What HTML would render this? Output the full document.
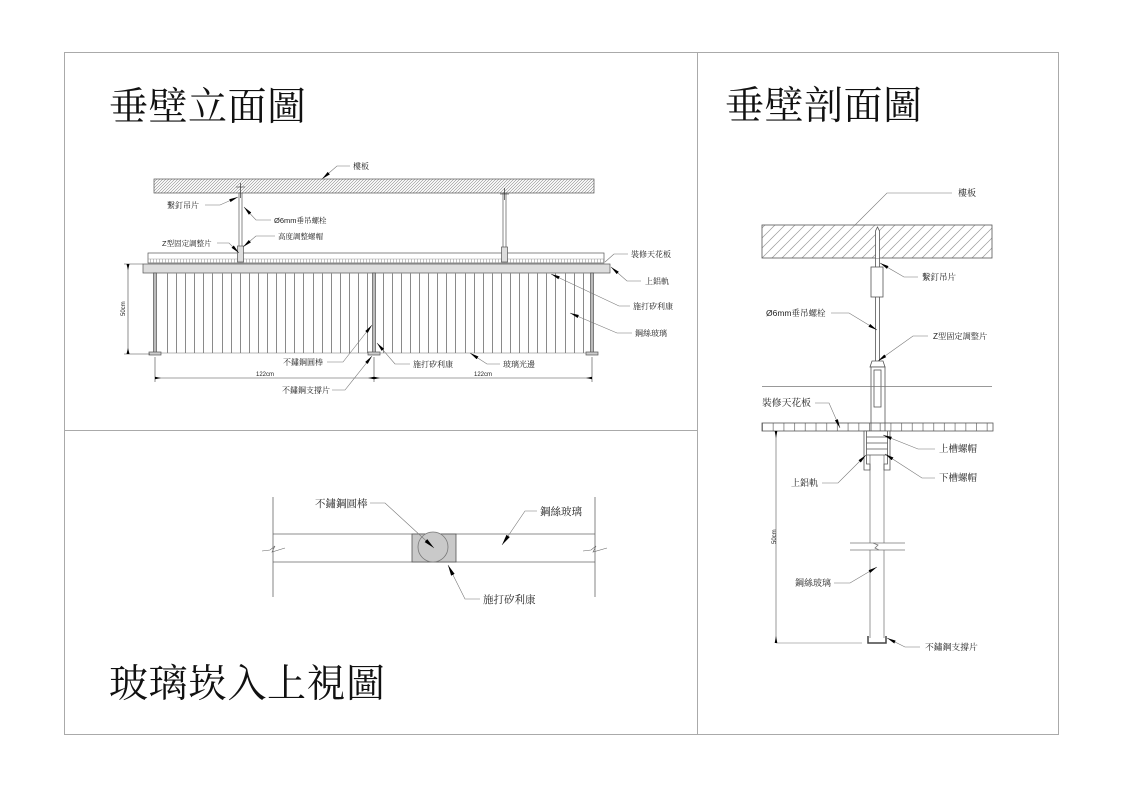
<!DOCTYPE html>
<html><head><meta charset="utf-8"><style>
html,body{margin:0;padding:0;background:#fff;}
svg{display:block;}
text{font-family:"Liberation Sans","Noto Serif CJK SC",serif;fill:#222;}
.t{font-family:"Liberation Serif","Noto Serif CJK SC",serif;font-size:39px;fill:#111;}
</style></head><body>
<svg width="1123" height="789" viewBox="0 0 1123 789" xmlns="http://www.w3.org/2000/svg">
<defs>
<pattern id="h1" width="3" height="3" patternUnits="userSpaceOnUse"><path d="M-1,1 L1,-1 M0,3 L3,0 M2,4 L4,2" stroke="#888" stroke-width="0.6"/></pattern>
<pattern id="h2" width="10" height="10" patternUnits="userSpaceOnUse"><path d="M-2.5,2.5 L2.5,-2.5 M0,10 L10,0 M7.5,12.5 L12.5,7.5" stroke="#999" stroke-width="0.7"/></pattern>
<pattern id="tk" x="0" y="0" width="3" height="10" patternUnits="userSpaceOnUse"><line x1="0.5" y1="0" x2="0.5" y2="10" stroke="#999" stroke-width="0.6"/></pattern>
<pattern id="tk2" x="762" y="0" width="10.7" height="10" patternUnits="userSpaceOnUse"><line x1="0.5" y1="0" x2="0.5" y2="10" stroke="#666" stroke-width="0.7"/></pattern>
<marker id="a" markerWidth="9" markerHeight="4" refX="9" refY="2" orient="auto" markerUnits="userSpaceOnUse"><path d="M0,0.4 L9,2 L0,3.6z" fill="#000"/></marker>
<marker id="b" markerWidth="11" markerHeight="5" refX="11" refY="2.5" orient="auto" markerUnits="userSpaceOnUse"><path d="M0,0.5 L11,2.5 L0,4.5z" fill="#000"/></marker>
</defs>

<!-- frame -->
<rect x="64.5" y="52.5" width="994" height="682" fill="none" stroke="#aaa" stroke-width="1"/>
<line x1="697.5" y1="52" x2="697.5" y2="734" stroke="#aaa" stroke-width="1"/>
<line x1="64" y1="430.5" x2="697" y2="430.5" stroke="#aaa" stroke-width="1"/>

<!-- titles -->
<text class="t" x="109" y="120" textLength="197">垂壁立面圖</text>
<text class="t" x="725" y="119" textLength="197">垂壁剖面圖</text>
<text class="t" x="109" y="697" textLength="276">玻璃崁入上視圖</text>

<!-- ============ ELEVATION ============ -->
<g stroke="#555" stroke-width="0.7" fill="none">
<rect x="154" y="179" width="440" height="14" fill="url(#h1)"/>
<!-- ceiling board -->
<rect x="148" y="253" width="456" height="10" fill="#fff"/>
<rect x="148" y="259" width="456" height="4" fill="url(#tk)" stroke="none"/>
<line x1="148" y1="259" x2="604" y2="259" stroke="#999" stroke-width="0.5"/>
<!-- rods -->
<line x1="239" y1="193" x2="239" y2="262"/><line x1="242" y1="193" x2="242" y2="262"/>
<line x1="236" y1="187" x2="245" y2="187"/><line x1="240.5" y1="183" x2="240.5" y2="198" stroke="#333"/>
<rect x="237.5" y="246" width="6" height="16" fill="#ddd"/>
<line x1="503" y1="193" x2="503" y2="262"/><line x1="506" y1="193" x2="506" y2="262"/>
<line x1="500" y1="194" x2="509" y2="194"/><line x1="504.5" y1="188" x2="504.5" y2="200" stroke="#333"/>
<rect x="501.5" y="247" width="6" height="15" fill="#ddd"/>
<!-- rail -->
<rect x="143" y="264" width="467" height="9" fill="#ddd"/>
<!-- glass -->
<path stroke="#8a8a8a" stroke-width="1" d="M167.5,273V353M176.5,273V353M185.5,273V353M194.5,273V353M203.5,273V353M212.5,273V353M222.5,273V353M231.5,273V353M240.5,273V353M249.5,273V353M258.5,273V353M267.5,273V353M276.5,273V353M285.5,273V353M294.5,273V353M303.5,273V353M313.5,273V353M322.5,273V353M331.5,273V353M340.5,273V353M349.5,273V353M358.5,273V353M367.5,273V353M383.5,273V353M392.5,273V353M401.5,273V353M410.5,273V353M419.5,273V353M428.5,273V353M437.5,273V353M446.5,273V353M455.5,273V353M465.5,273V353M474.5,273V353M483.5,273V353M492.5,273V353M501.5,273V353M510.5,273V353M519.5,273V353M528.5,273V353M537.5,273V353M546.5,273V353M555.5,273V353M565.5,273V353M574.5,273V353M583.5,273V353"/>
<line x1="155" y1="353" x2="592" y2="353" stroke="#777" stroke-width="0.6"/>
<!-- posts -->
<rect x="153.5" y="273" width="3" height="80" fill="#bbb"/>
<rect x="372.5" y="273" width="3" height="80" fill="#bbb"/>
<rect x="590.5" y="273" width="3" height="80" fill="#bbb"/>
<rect x="149" y="352" width="12" height="3" fill="#ccc"/>
<rect x="368" y="352" width="12" height="3" fill="#ccc"/>
<rect x="586" y="352" width="12" height="3" fill="#ccc"/>
</g>
<!-- dimensions elevation -->
<g stroke="#444" stroke-width="0.6" fill="none">
<line x1="128" y1="264" x2="128" y2="354"/>
<line x1="124" y1="264" x2="143" y2="264"/>
<line x1="124" y1="354" x2="150" y2="354"/>
<line x1="155" y1="357" x2="155" y2="382"/>
<line x1="374" y1="357" x2="374" y2="382"/>
<line x1="592" y1="357" x2="592" y2="382"/>
<line x1="155" y1="378" x2="592" y2="378"/>
</g>
<g fill="#000">
<path d="M126.5,264 L129.5,264 L128,270z"/><path d="M126.5,354 L129.5,354 L128,348z"/>
<path d="M155,376.8 L155,379.2 L161,378z"/><path d="M374,376.8 L374,379.2 L368,378z"/>
<path d="M374,376.8 L374,379.2 L380,378z"/><path d="M592,376.8 L592,379.2 L586,378z"/>
</g>
<text x="0" y="0" font-size="6" transform="translate(125,316) rotate(-90)">50cm</text>
<text x="256" y="376" font-size="6">122cm</text>
<text x="474" y="376" font-size="6">122cm</text>

<!-- elevation leaders -->
<g stroke="#777" stroke-width="0.6" fill="none" marker-end="url(#a)">
<polyline points="350,166 337,166 322,179"/>
<polyline points="205,205 220,205 238,197"/>
<polyline points="271,220 256,220 244,207"/>
<polyline points="275,236 256,236 243,247"/>
<polyline points="217,243 229,243 239,253"/>
<polyline points="327,362 343,362 372,325"/>
<polyline points="332,390 345,390 372,356"/>
<polyline points="410,364 395,364 377,343"/>
<polyline points="500,364 487,364 470,353"/>
<polyline points="641,281 627,281 611,267"/>
<polyline points="630,306 619,306 551,274"/>
<polyline points="632,333 617,333 570,313"/>
</g>
<polyline points="628,254 614,254 605,262" stroke="#777" stroke-width="0.6" fill="none"/>
<g font-size="8">
<text x="353" y="169">樓板</text>
<text x="167" y="208">繫釘吊片</text>
<text x="274" y="223" font-size="7.5">Ø6mm垂吊螺栓</text>
<text x="278" y="239" font-size="7.5">高度調整螺帽</text>
<text x="162" y="246" font-size="7.5">Z型固定調整片</text>
<text x="283" y="365">不鏽鋼圓棒</text>
<text x="282" y="393">不鏽鋼支撐片</text>
<text x="413" y="367">施打矽利康</text>
<text x="503" y="367">玻璃光邊</text>
<text x="631" y="257">裝修天花板</text>
<text x="645" y="284">上鋁軌</text>
<text x="633" y="309">施打矽利康</text>
<text x="635" y="336">鋼絲玻璃</text>
</g>

<!-- ============ SECTION ============ -->
<g stroke="#555" stroke-width="0.8" fill="none">
<rect x="762" y="225" width="230" height="33" fill="url(#h2)"/>
<path d="M875.5,258 L875.5,231 L877.5,227 L879.5,231 L879.5,258" fill="#fff"/>
<line x1="875.5" y1="258" x2="875.5" y2="362"/>
<line x1="879.5" y1="258" x2="879.5" y2="362"/>
<rect x="871" y="267" width="12" height="30" fill="#fff"/>
<path d="M870,367 L872,361 L883,361 L885,367z" fill="#fff"/>
<rect x="871" y="367" width="14" height="64" fill="#fff"/>
<rect x="874" y="370" width="7" height="37"/>
<line x1="762" y1="386.5" x2="992" y2="386.5" stroke="#777" stroke-width="0.7"/>
<!-- ceiling tick row -->
<rect x="762" y="423" width="231" height="8" fill="url(#tk2)" stroke="#555"/>
<!-- rail channel -->
<path d="M864,431 L864,470 L870,470 L870,464 L866.5,464 L866.5,455 L887.5,455 L887.5,464 L884,464 L884,470 L890,470 L890,431z" fill="#fff"/>
<line x1="866.5" y1="431" x2="866.5" y2="455"/><line x1="887.5" y1="431" x2="887.5" y2="455"/>
<line x1="866.5" y1="437" x2="887.5" y2="437"/>
<line x1="866.5" y1="443" x2="887.5" y2="443"/>
<line x1="866.5" y1="449" x2="887.5" y2="449"/>
<!-- glass -->
<line x1="870" y1="455" x2="870" y2="543" stroke-width="0.6"/><line x1="884" y1="455" x2="884" y2="543" stroke-width="0.6"/>
<line x1="870" y1="550" x2="870" y2="638" stroke-width="0.6"/><line x1="884" y1="550" x2="884" y2="638" stroke-width="0.6"/>
<line x1="850" y1="543" x2="905" y2="543" stroke="#777"/>
<line x1="850" y1="550" x2="905" y2="550" stroke="#777"/>
<path d="M873,543 L878,545 L875,548 L879,550" stroke="#777"/>
<!-- support plate -->
<path d="M868,636 L868,643 L886,643 L886,636" stroke="#444" stroke-width="1.5"/>
<!-- dim -->
<line x1="776" y1="431" x2="776" y2="643" stroke="#555" stroke-width="0.6"/>
<line x1="776" y1="643" x2="862" y2="643" stroke="#777" stroke-width="0.6"/>
</g>
<g fill="#000">
<path d="M774.7,431 L777.3,431 L776,438z"/><path d="M774.7,643 L777.3,643 L776,636z"/>
</g>
<text x="0" y="0" font-size="6" transform="translate(776,544) rotate(-90)">50cm</text>

<g stroke="#777" stroke-width="0.6" fill="none" marker-end="url(#a)">
<polyline points="918,277 904,277 880,263"/>
<polyline points="831,313 849,313 877,330"/>
<polyline points="928,336 913,336 878,361"/>
<polyline points="815,403 829,403 840,428"/>
<polyline points="935,449 918,449 883,435"/>
<polyline points="935,478 922,478 885,454"/>
<polyline points="822,483 838,483 866,455"/>
<polyline points="834,583 850,583 877,567"/>
<polyline points="920,647 905,647 887,638"/>
</g>
<polyline points="952,193 887,193 855,225" stroke="#777" stroke-width="0.6" fill="none"/>
<g font-size="9">
<text x="958" y="196">樓板</text>
<text x="922" y="280" font-size="8.5">繫釘吊片</text>
<text x="766" y="316" font-size="8.5">Ø6mm垂吊螺栓</text>
<text x="933" y="339" font-size="8.2">Z型固定調整片</text>
<text x="762" y="406" font-size="9.8">裝修天花板</text>
<text x="939" y="452" font-size="9.5">上槽螺帽</text>
<text x="939" y="481" font-size="9.5">下槽螺帽</text>
<text x="791" y="486">上鋁軌</text>
<text x="795" y="586">鋼絲玻璃</text>
<text x="925" y="650" font-size="8.8">不鏽鋼支撐片</text>
</g>

<!-- ============ PLAN ============ -->
<g stroke="#666" stroke-width="0.8" fill="none">
<line x1="273" y1="534" x2="595" y2="534"/>
<line x1="273" y1="562" x2="595" y2="562"/>
<line x1="273" y1="497" x2="273" y2="597"/>
<line x1="595" y1="497" x2="595" y2="597"/>
<polyline points="262,551 270,550 275,546 272,552 285,548" stroke-width="0.6"/>
<polyline points="583,551 591,550 596,546 593,552 607,548" stroke-width="0.6"/>
<rect x="412" y="534" width="44" height="28" fill="#c9c9c9" stroke="#555"/>
<circle cx="433" cy="547" r="15" fill="#c9c9c9" stroke="#777"/>
</g>
<g stroke="#777" stroke-width="0.6" fill="none" marker-end="url(#b)">
<polyline points="370,503 385,503 434,548"/>
<polyline points="537,511 525,511 502,545"/>
<polyline points="480,599 465,599 448,565"/>
</g>
<g font-size="10.5">
<text x="315" y="507">不鏽鋼圓棒</text>
<text x="540" y="515">鋼絲玻璃</text>
<text x="483" y="603">施打矽利康</text>
</g>
</svg>
</body></html>
